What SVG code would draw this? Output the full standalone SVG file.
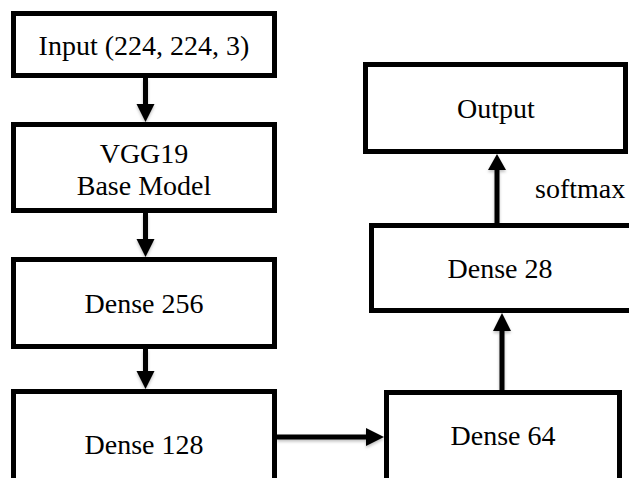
<svg xmlns="http://www.w3.org/2000/svg" width="629" height="478" viewBox="0 0 629 478">
  <style>
    .box { fill: #ffffff; stroke: #000000; stroke-width: 5; stroke-linejoin: miter; }
    text { font-family: 'Liberation Serif', 'Tinos', 'DejaVu Serif', serif; font-size: 28px; fill: #000000; }
    .lbl { text-anchor: middle; }
    .shaft { stroke: #000000; stroke-width: 5; fill: none; }
    .head { fill: #000000; stroke: none; }
  </style>
  <defs>
    <filter id="soft" x="-20%" y="-20%" width="140%" height="140%">
      <feDropShadow dx="0" dy="2" stdDeviation="1.5" flood-color="#000000" flood-opacity="0.25"/>
    </filter>
  </defs>
  <rect width="629" height="478" fill="#ffffff"/>

  <!-- connectors -->
  <g id="connectors" filter="url(#soft)">
    <!-- Input -> VGG19 -->
    <line class="shaft" x1="145.5" y1="78" x2="145.5" y2="106"/>
    <polygon class="head" points="136.5,104 154.5,104 145.5,122"/>
    <!-- VGG19 -> Dense 256 -->
    <line class="shaft" x1="145.5" y1="213" x2="145.5" y2="241"/>
    <polygon class="head" points="136.5,239 154.5,239 145.5,257"/>
    <!-- Dense 256 -> Dense 128 -->
    <line class="shaft" x1="145.5" y1="349" x2="145.5" y2="373"/>
    <polygon class="head" points="136.5,371 154.5,371 145.5,389"/>
    <!-- Dense 128 -> Dense 64 -->
    <line class="shaft" x1="277" y1="437" x2="368" y2="437"/>
    <polygon class="head" points="366,428 366,446 384,437"/>
    <!-- Dense 64 -> Dense 28 -->
    <line class="shaft" x1="502" y1="390" x2="502" y2="329"/>
    <polygon class="head" points="493,331 511,331 502,313"/>
    <!-- Dense 28 -> Output -->
    <line class="shaft" x1="497" y1="223" x2="497" y2="168"/>
    <polygon class="head" points="488,170 506,170 497,154"/>
  </g>

  <g id="input">
    <rect class="box" x="13.5" y="13.5" width="261" height="62"/>
    <text class="lbl" x="144" y="55" font-family="Liberation Serif, serif">Input (224, 224, 3)</text>
  </g>
  <g id="vgg19">
    <rect class="box" x="13.5" y="124.5" width="261" height="86"/>
    <text class="lbl" x="144" y="163">VGG19</text>
    <text class="lbl" x="144" y="195">Base Model</text>
  </g>
  <g id="dense256">
    <rect class="box" x="13.5" y="259.5" width="261" height="87"/>
    <text class="lbl" x="144" y="313">Dense 256</text>
  </g>
  <g id="dense128">
    <rect class="box" x="13.5" y="391.5" width="261" height="110"/>
    <text class="lbl" x="144" y="454">Dense 128</text>
  </g>
  <g id="dense64">
    <rect class="box" x="386.5" y="392.5" width="233" height="110"/>
    <text class="lbl" x="503" y="445">Dense 64</text>
  </g>
  <g id="dense28">
    <rect class="box" x="371.5" y="225.5" width="300" height="85"/>
    <text class="lbl" x="500" y="278">Dense 28</text>
  </g>
  <g id="output">
    <rect class="box" x="365.5" y="64.5" width="260" height="87"/>
    <text class="lbl" x="496" y="118">Output</text>
  </g>
  <text x="535" y="198">softmax</text>
</svg>
